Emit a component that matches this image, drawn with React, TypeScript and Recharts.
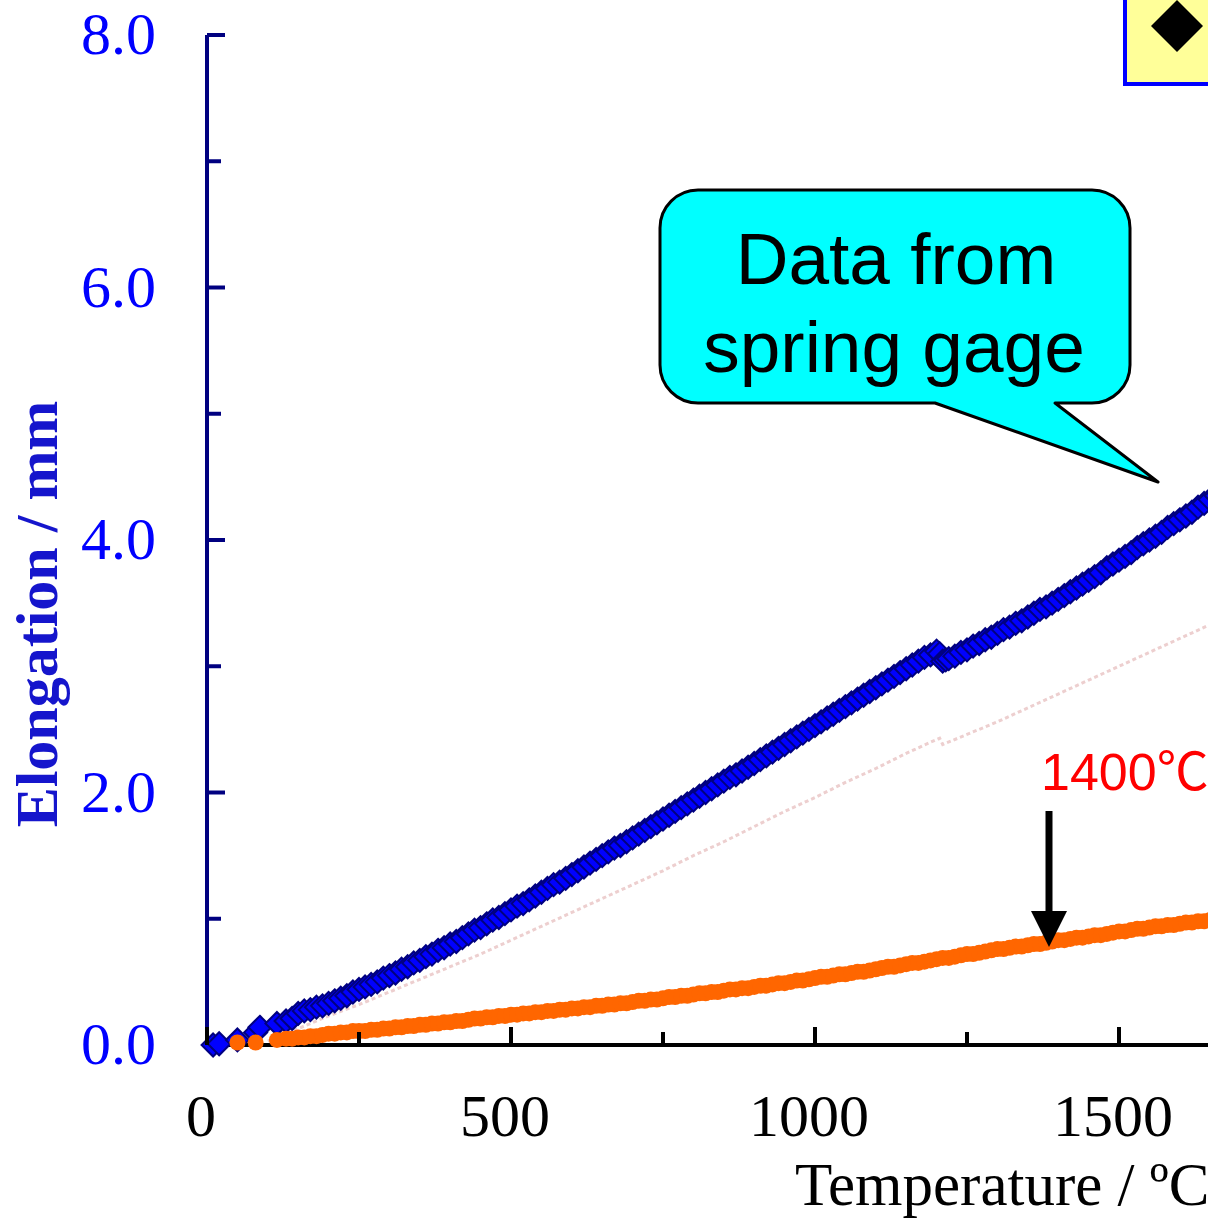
import React from 'react';
import { ComposedChart, XAxis, YAxis, Scatter, Line } from 'recharts';

// ---------- data (temperature °C, elongation mm) ----------
const BLUE_T = [
  10, 20, 50, 80, 87, 115, 130, 140,
  150, 160, 170, 180, 190,
  200, 210, 220, 230, 240, 250, 260, 270, 280, 290,
  300, 310, 320, 330, 340, 350, 360, 370, 380, 390,
  400, 410, 420, 430, 440, 450, 460, 470, 480, 490,
  500, 510, 520, 530, 540, 550, 560, 570, 580, 590,
  600, 610, 620, 630, 640, 650, 660, 670, 680, 690,
  700, 710, 720, 730, 740, 750, 760, 770, 780, 790,
  800, 810, 820, 830, 840, 850, 860, 870, 880, 890,
  900, 910, 920, 930, 940, 950, 960, 970, 980, 990,
  1000, 1010, 1020, 1030, 1040, 1050, 1060, 1070, 1080, 1090,
  1100, 1110, 1120, 1130, 1140, 1150, 1160, 1170, 1180, 1190,
  1200, 1205, 1210, 1215, 1220,
  1230, 1240, 1250, 1260, 1270, 1280, 1290,
  1300, 1310, 1320, 1330, 1340, 1350, 1360, 1370, 1380, 1390,
  1400, 1410, 1420, 1430, 1440, 1450, 1460, 1470, 1480, 1490,
  1500, 1510, 1520, 1530, 1540, 1550, 1560, 1570, 1580, 1590,
  1600, 1610, 1620, 1630, 1640, 1650, 1660,
];
const BLUE_E = [
  0.00, 0.01, 0.04, 0.10, 0.14, 0.17, 0.19, 0.21,
  0.25, 0.27, 0.28, 0.30, 0.31,
  0.33, 0.35, 0.37, 0.39, 0.42, 0.44, 0.46, 0.48, 0.50, 0.53,
  0.55, 0.57, 0.60, 0.62, 0.65, 0.67, 0.70, 0.72, 0.75, 0.77,
  0.80, 0.82, 0.85, 0.88, 0.91, 0.93, 0.96, 0.99, 1.01, 1.04,
  1.07, 1.10, 1.12, 1.15, 1.18, 1.21, 1.24, 1.27, 1.29, 1.32,
  1.35, 1.38, 1.41, 1.44, 1.47, 1.50, 1.53, 1.56, 1.58, 1.61,
  1.64, 1.67, 1.70, 1.73, 1.76, 1.79, 1.82, 1.85, 1.88, 1.91,
  1.94, 1.97, 2.00, 2.03, 2.06, 2.09, 2.12, 2.14, 2.17, 2.20,
  2.23, 2.26, 2.29, 2.32, 2.35, 2.38, 2.41, 2.44, 2.47, 2.50,
  2.53, 2.56, 2.59, 2.62, 2.65, 2.68, 2.71, 2.74, 2.77, 2.80,
  2.83, 2.86, 2.89, 2.92, 2.95, 2.98, 3.01, 3.04, 3.07, 3.09,
  3.12, 3.10, 3.04, 3.05, 3.06,
  3.08, 3.11, 3.13, 3.16, 3.18, 3.21, 3.23,
  3.26, 3.29, 3.31, 3.34, 3.36, 3.39, 3.42, 3.45, 3.47, 3.50,
  3.53, 3.56, 3.59, 3.62, 3.65, 3.68, 3.71, 3.74, 3.78, 3.81,
  3.84, 3.87, 3.90, 3.94, 3.97, 4.00, 4.03, 4.06, 4.10, 4.13,
  4.16, 4.19, 4.22, 4.26, 4.29, 4.32, 4.35,
];

const ORANGE_T = [
  50, 80, 115,
  130, 140, 150, 160, 170, 180, 190,
  200, 210, 220, 230, 240, 250, 260, 270, 280, 290,
  300, 310, 320, 330, 340, 350, 360, 370, 380, 390,
  400, 410, 420, 430, 440, 450, 460, 470, 480, 490,
  500, 510, 520, 530, 540, 550, 560, 570, 580, 590,
  600, 610, 620, 630, 640, 650, 660, 670, 680, 690,
  700, 710, 720, 730, 740, 750, 760, 770, 780, 790,
  800, 810, 820, 830, 840, 850, 860, 870, 880, 890,
  900, 910, 920, 930, 940, 950, 960, 970, 980, 990,
  1000, 1010, 1020, 1030, 1040, 1050, 1060, 1070, 1080, 1090,
  1100, 1110, 1120, 1130, 1140, 1150, 1160, 1170, 1180, 1190,
  1200, 1210, 1220, 1230, 1240, 1250, 1260, 1270, 1280, 1290,
  1300, 1310, 1320, 1330, 1340, 1350, 1360, 1370, 1380, 1390,
  1400, 1410, 1420, 1430, 1440, 1450, 1460, 1470, 1480, 1490,
  1500, 1510, 1520, 1530, 1540, 1550, 1560, 1570, 1580, 1590,
  1600, 1610, 1620, 1630, 1640, 1650, 1660,
];
const ORANGE_E = [
  0.02, 0.02, 0.04,
  0.05, 0.05, 0.06, 0.06, 0.07, 0.07, 0.08,
  0.09, 0.09, 0.10, 0.10, 0.11, 0.11, 0.11, 0.12, 0.12, 0.13,
  0.13, 0.14, 0.14, 0.15, 0.15, 0.16, 0.16, 0.17, 0.17, 0.18,
  0.18, 0.19, 0.19, 0.20, 0.21, 0.21, 0.22, 0.22, 0.23, 0.23,
  0.24, 0.24, 0.25, 0.25, 0.26, 0.26, 0.27, 0.27, 0.28, 0.28,
  0.29, 0.29, 0.30, 0.30, 0.31, 0.31, 0.32, 0.32, 0.33, 0.33,
  0.34, 0.35, 0.35, 0.36, 0.36, 0.37, 0.38, 0.38, 0.39, 0.39,
  0.40, 0.41, 0.41, 0.42, 0.42, 0.43, 0.44, 0.44, 0.45, 0.45,
  0.46, 0.47, 0.47, 0.48, 0.49, 0.49, 0.50, 0.51, 0.51, 0.52,
  0.53, 0.54, 0.54, 0.55, 0.56, 0.56, 0.57, 0.58, 0.58, 0.59,
  0.60, 0.61, 0.62, 0.62, 0.63, 0.64, 0.65, 0.65, 0.66, 0.67,
  0.68, 0.69, 0.69, 0.70, 0.71, 0.72, 0.72, 0.73, 0.74, 0.75,
  0.76, 0.76, 0.77, 0.78, 0.78, 0.79, 0.80, 0.80, 0.81, 0.82,
  0.83, 0.83, 0.84, 0.85, 0.85, 0.86, 0.87, 0.87, 0.88, 0.89,
  0.90, 0.90, 0.91, 0.92, 0.92, 0.93, 0.94, 0.94, 0.95, 0.95,
  0.96, 0.97, 0.97, 0.98, 0.98, 0.99, 1.00,
];

const PINK_T = [
  100, 150, 200, 250, 300, 350, 400, 450, 500, 550, 600, 650, 700, 750,
  800, 850, 900, 950, 1000, 1050, 1100, 1150, 1200, 1205, 1210, 1250,
  1300, 1350, 1400, 1450, 1500, 1550, 1600, 1650,
];
const PINK_E = [
  0.03, 0.13, 0.23, 0.32, 0.42, 0.52, 0.62, 0.72, 0.83, 0.94, 1.05, 1.16, 1.27, 1.38,
  1.50, 1.61, 1.73, 1.85, 1.96, 2.08, 2.19, 2.31, 2.42, 2.43, 2.38, 2.46,
  2.56, 2.67, 2.78, 2.89, 3.00, 3.11, 3.22, 3.33,
];

const X_TICKS = [0, 250, 500, 750, 1000, 1250, 1500, 1750, 2000];
const X_MAJOR = [0, 500, 1000, 1500];
const Y_TICKS = [0, 1, 2, 3, 4, 5, 6, 7, 8];
const Y_MAJOR = [0, 2, 4, 6, 8];

const X_TITLE = 'Temperature / ºC';
const Y_TITLE = 'Elongation / mm';
const CALLOUT_LINES = ['Data from', 'spring gage'];
const MARK_LABEL = '1400℃';

const blueData = BLUE_T.map((t, i) => ({ t, e: BLUE_E[i] }));
const orangeData = ORANGE_T.map((t, i) => ({ t, e: ORANGE_E[i] }));
const pinkData = PINK_T.map((t, i) => ({ t, e: PINK_E[i] }));

const SERIF = "'Liberation Serif', 'Times New Roman', serif";
const SANS = "'Liberation Sans', Arial, 'Noto Sans CJK JP', sans-serif";

const XTick = (props: any) => {
  const { x, y, payload } = props;
  const v = payload.value;
  const major = v % 500 === 0;
  return (
    <g>
      <line x1={x} x2={x} y1={y} y2={y - (major ? 18 : 13)} stroke="#000" strokeWidth={4} />
      {X_MAJOR.includes(v) && (
        <text x={x - 6} y={y + 91} textAnchor="middle" fontFamily={SERIF} fontSize={60} fill="#000">
          {v}
        </text>
      )}
    </g>
  );
};

const YTick = (props: any) => {
  const { x, y, payload } = props;
  const v = payload.value;
  const major = Y_MAJOR.includes(v);
  return (
    <g>
      {v !== 0 && (
        <line x1={x} x2={x + (major ? 18 : 14)} y1={y} y2={y} stroke="#000080" strokeWidth={4} />
      )}
      {major && (
        <text x={x - 51} y={y + 19} textAnchor="end" fontFamily={SERIF} fontSize={60} fill="#0000FF">
          {v.toFixed(1)}
        </text>
      )}
    </g>
  );
};

const XTitle = (props: any) => {
  const vb = props.viewBox || { x: 207, y: 1045 };
  return (
    <text x={vb.x + 588} y={vb.y + 160} fontFamily={SERIF} fontSize={61} fill="#000">
      {X_TITLE}
    </text>
  );
};

const YTitle = (props: any) => {
  const vb = props.viewBox || { x: 0, y: 35, height: 1010 };
  const cx = 57;
  const cy = vb.y + 579;
  return (
    <text
      x={cx}
      y={cy}
      transform={`rotate(-90 ${cx} ${cy})`}
      textAnchor="middle"
      fontFamily={SERIF}
      fontWeight="bold"
      fontSize={60}
      fill="#1515CC"
    >
      {Y_TITLE}
    </text>
  );
};

const BlueDiamond = (props: any) => {
  const { cx, cy } = props;
  if (cx == null || cy == null) return null;
  const h = 11.5;
  return (
    <polygon
      points={`${cx},${cy - h} ${cx + h},${cy} ${cx},${cy + h} ${cx - h},${cy}`}
      fill="#0000FF"
      stroke="#000080"
      strokeWidth={2}
    />
  );
};

const OrangeDot = (props: any) => {
  const { cx, cy } = props;
  if (cx == null || cy == null) return null;
  return <circle cx={cx} cy={cy} r={8} fill="#FF6600" />;
};

const Overlay = () => (
  <svg
    width={1208}
    height={1221}
    style={{ position: 'absolute', left: 0, top: 0, pointerEvents: 'none' }}
  >
    {/* legend box */}
    <rect x={1125} y={-10} width={200} height={94} fill="#FFFF99" stroke="#0000FF" strokeWidth={4} />
    <polygon points="1177,0 1203,26 1177,52 1151,26" fill="#000" />
    {/* callout */}
    <path
      d="M 698 190 H 1092 A 38 38 0 0 1 1130 228 V 365 A 38 38 0 0 1 1092 403 H 1055 L 1158 482 L 935 403 H 698 A 38 38 0 0 1 660 365 V 228 A 38 38 0 0 1 698 190 Z"
      fill="#00FFFF"
      stroke="#000"
      strokeWidth={3}
      strokeLinejoin="round"
    />
    <text x={896} y={284} textAnchor="middle" fontFamily={SANS} fontSize={73} fill="#000">
      {CALLOUT_LINES[0]}
    </text>
    <text x={894} y={372} textAnchor="middle" fontFamily={SANS} fontSize={73} fill="#000">
      {CALLOUT_LINES[1]}
    </text>
    {/* 1400 label + arrow */}
    <text x={1041} y={790} fontFamily={SANS} fontSize={52} fill="#FF0000">
      {MARK_LABEL}
    </text>
    <line x1={1049} x2={1049} y1={811} y2={915} stroke="#000" strokeWidth={7} />
    <polygon points="1031,911 1067,911 1049,947" fill="#000" />
  </svg>
);

export default function App() {
  return (
    <div
      style={{
        position: 'absolute',
        left: 0,
        top: 0,
        width: 1208,
        height: 1221,
        overflow: 'hidden',
        background: '#fff',
      }}
    >
      <ComposedChart width={1500} height={1221} margin={{ top: 35, right: 77, bottom: 0, left: 0 }}>
        <XAxis
          xAxisId="top"
          orientation="top"
          type="number"
          dataKey="t"
          domain={[0, 2000]}
          height={0}
          tick={false}
          tickLine={false}
          axisLine={{ stroke: '#000', strokeWidth: 3 }}
        />
        <XAxis
          type="number"
          dataKey="t"
          domain={[0, 2000]}
          ticks={X_TICKS}
          interval={0}
          height={176}
          tickSize={0}
          tickMargin={0}
          tickLine={false}
          tick={<XTick />}
          axisLine={{ stroke: '#000', strokeWidth: 4 }}
          label={<XTitle />}
        />
        <YAxis
          type="number"
          dataKey="e"
          domain={[0, 8]}
          ticks={Y_TICKS}
          interval={0}
          width={207}
          tickSize={0}
          tickMargin={0}
          tickLine={false}
          tick={<YTick />}
          axisLine={{ stroke: '#000080', strokeWidth: 4 }}
          label={<YTitle />}
        />
        <Line
          data={pinkData}
          dataKey="e"
          type="linear"
          stroke="#EDCFCF"
          strokeWidth={3}
          strokeDasharray="4 3"
          dot={false}
          activeDot={false}
          isAnimationActive={false}
        />
        <Scatter data={blueData} dataKey="e" shape={<BlueDiamond />} isAnimationActive={false} />
        <Scatter data={orangeData} dataKey="e" shape={<OrangeDot />} isAnimationActive={false} />
      </ComposedChart>
      <Overlay />
    </div>
  );
}
